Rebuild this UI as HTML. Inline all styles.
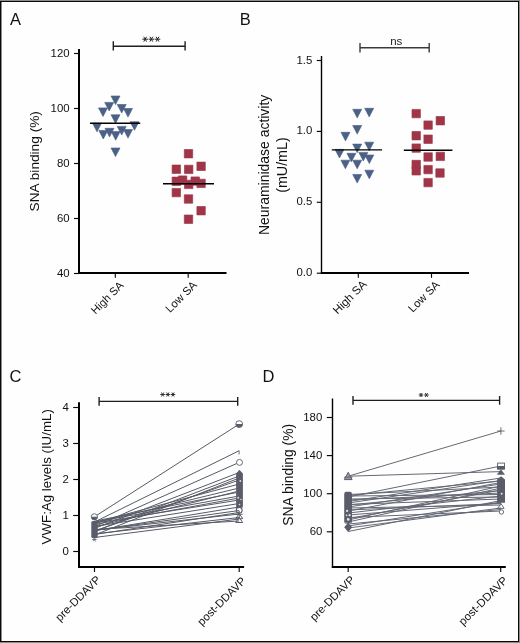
<!DOCTYPE html>
<html><head><meta charset="utf-8"><style>
html,body{margin:0;padding:0;background:#8c8c8c;}
body{width:520px;height:643px;position:relative;overflow:hidden;}
#frame{position:absolute;left:0;top:1px;width:519px;height:641px;background:#0a0a0a;}
#col1{position:absolute;left:1px;top:2px;width:1px;height:639px;background:#8a8a8a;}
#inner{position:absolute;left:2px;top:2px;width:516px;height:639px;background:#fefefe;}
svg{position:absolute;left:0;top:0;font-family:"Liberation Sans", sans-serif;will-change:transform;}
</style></head><body>
<div id="frame"></div><div id="col1"></div><div id="inner"></div>
<svg width="520" height="643" viewBox="0 0 520 643">
<text x="10" y="25" font-size="16.5" text-anchor="start" fill="#111">A</text>
<text x="239.7" y="25" font-size="16.5" text-anchor="start" fill="#111">B</text>
<text x="9.6" y="382" font-size="16.5" text-anchor="start" fill="#111">C</text>
<text x="262.5" y="382" font-size="16.5" text-anchor="start" fill="#111">D</text>
<line x1="79" y1="49" x2="79" y2="274.0" stroke="#000" stroke-width="2.0" />
<line x1="74" y1="53.5" x2="79" y2="53.5" stroke="#0a0a0a" stroke-width="1.15" />
<text x="69.6" y="56.5" font-size="11.4" text-anchor="end" fill="#111">120</text>
<line x1="74" y1="108.5" x2="79" y2="108.5" stroke="#0a0a0a" stroke-width="1.15" />
<text x="69.6" y="111.5" font-size="11.4" text-anchor="end" fill="#111">100</text>
<line x1="74" y1="163.5" x2="79" y2="163.5" stroke="#0a0a0a" stroke-width="1.15" />
<text x="69.6" y="166.5" font-size="11.4" text-anchor="end" fill="#111">80</text>
<line x1="74" y1="218.5" x2="79" y2="218.5" stroke="#0a0a0a" stroke-width="1.15" />
<text x="69.6" y="221.5" font-size="11.4" text-anchor="end" fill="#111">60</text>
<line x1="74" y1="273.5" x2="79" y2="273.5" stroke="#0a0a0a" stroke-width="1.15" />
<text x="69.6" y="276.5" font-size="11.4" text-anchor="end" fill="#111">40</text>
<line x1="78" y1="273" x2="226.5" y2="273" stroke="#000" stroke-width="2.0" />
<line x1="115.3" y1="273" x2="115.3" y2="277.7" stroke="#0a0a0a" stroke-width="1.15" />
<line x1="188.2" y1="273" x2="188.2" y2="277.7" stroke="#0a0a0a" stroke-width="1.15" />
<text x="0" y="0" font-size="13.68" text-anchor="middle" fill="#111" transform="translate(38.96,161.26) rotate(-90)">SNA binding (%)</text>
<text x="0" y="0" font-size="11.11" text-anchor="end" fill="#111" transform="translate(124.3,286.02) rotate(-45)">High SA</text>
<text x="0" y="0" font-size="11.27" text-anchor="end" fill="#111" transform="translate(197.54,285.7) rotate(-45)">Low SA</text>
<line x1="113.3" y1="46.2" x2="185.1" y2="46.2" stroke="#1e1e1e" stroke-width="1.4" />
<line x1="113.3" y1="41.2" x2="113.3" y2="50.6" stroke="#1e1e1e" stroke-width="1.4" />
<line x1="185.1" y1="41.2" x2="185.1" y2="50.6" stroke="#1e1e1e" stroke-width="1.4" />
<line x1="142.35" y1="39.2" x2="147.95" y2="39.2" stroke="#222" stroke-width="1.0" />
<line x1="143.75" y1="36.78" x2="146.55" y2="41.62" stroke="#222" stroke-width="1.0" />
<line x1="146.55" y1="36.78" x2="143.75" y2="41.62" stroke="#222" stroke-width="1.0" />
<line x1="148.55" y1="39.2" x2="154.15" y2="39.2" stroke="#222" stroke-width="1.0" />
<line x1="149.95" y1="36.78" x2="152.75" y2="41.62" stroke="#222" stroke-width="1.0" />
<line x1="152.75" y1="36.78" x2="149.95" y2="41.62" stroke="#222" stroke-width="1.0" />
<line x1="154.7" y1="39.2" x2="160.3" y2="39.2" stroke="#222" stroke-width="1.0" />
<line x1="156.1" y1="36.78" x2="158.9" y2="41.62" stroke="#222" stroke-width="1.0" />
<line x1="158.9" y1="36.78" x2="156.1" y2="41.62" stroke="#222" stroke-width="1.0" />
<path d="M111.00,96.00 L120.00,96.00 L115.50,104.60 Z M104.70,102.40 L113.70,102.40 L109.20,111.00 Z M98.50,107.90 L107.50,107.90 L103.00,116.50 Z M117.20,104.50 L126.20,104.50 L121.70,113.10 Z M123.50,108.50 L132.50,108.50 L128.00,117.10 Z M111.00,114.80 L120.00,114.80 L115.50,123.40 Z M92.50,123.20 L101.50,123.20 L97.00,131.80 Z M130.00,121.70 L139.00,121.70 L134.50,130.30 Z M98.80,130.40 L107.80,130.40 L103.30,139.00 Z M105.00,128.30 L114.00,128.30 L109.50,136.90 Z M111.20,131.60 L120.20,131.60 L115.70,140.20 Z M117.20,126.40 L126.20,126.40 L121.70,135.00 Z M123.50,129.50 L132.50,129.50 L128.00,138.10 Z M111.00,148.00 L120.00,148.00 L115.50,156.60 Z" fill="none" stroke="#3f577e" stroke-width="0.6"/>
<path d="M111.00,96.00 L120.00,96.00 L115.50,104.60 Z M104.70,102.40 L113.70,102.40 L109.20,111.00 Z M98.50,107.90 L107.50,107.90 L103.00,116.50 Z M117.20,104.50 L126.20,104.50 L121.70,113.10 Z M123.50,108.50 L132.50,108.50 L128.00,117.10 Z M111.00,114.80 L120.00,114.80 L115.50,123.40 Z M92.50,123.20 L101.50,123.20 L97.00,131.80 Z M130.00,121.70 L139.00,121.70 L134.50,130.30 Z M98.80,130.40 L107.80,130.40 L103.30,139.00 Z M105.00,128.30 L114.00,128.30 L109.50,136.90 Z M111.20,131.60 L120.20,131.60 L115.70,140.20 Z M117.20,126.40 L126.20,126.40 L121.70,135.00 Z M123.50,129.50 L132.50,129.50 L128.00,138.10 Z M111.00,148.00 L120.00,148.00 L115.50,156.60 Z" fill="#4b6186"/>
<line x1="90" y1="123.3" x2="140.2" y2="123.3" stroke="#000" stroke-width="1.4" />
<path d="M184.30,149.50 h8.4 v8.4 h-8.4 Z M172.10,165.00 h8.4 v8.4 h-8.4 Z M184.50,165.20 h8.4 v8.4 h-8.4 Z M196.90,162.10 h8.4 v8.4 h-8.4 Z M172.10,177.10 h8.4 v8.4 h-8.4 Z M178.40,175.90 h8.4 v8.4 h-8.4 Z M184.50,180.20 h8.4 v8.4 h-8.4 Z M191.00,176.90 h8.4 v8.4 h-8.4 Z M196.90,179.20 h8.4 v8.4 h-8.4 Z M172.10,188.40 h8.4 v8.4 h-8.4 Z M184.30,194.80 h8.4 v8.4 h-8.4 Z M196.90,206.50 h8.4 v8.4 h-8.4 Z M184.30,215.00 h8.4 v8.4 h-8.4 Z" fill="none" stroke="#8f1f35" stroke-width="0.6"/>
<path d="M184.30,149.50 h8.4 v8.4 h-8.4 Z M172.10,165.00 h8.4 v8.4 h-8.4 Z M184.50,165.20 h8.4 v8.4 h-8.4 Z M196.90,162.10 h8.4 v8.4 h-8.4 Z M172.10,177.10 h8.4 v8.4 h-8.4 Z M178.40,175.90 h8.4 v8.4 h-8.4 Z M184.50,180.20 h8.4 v8.4 h-8.4 Z M191.00,176.90 h8.4 v8.4 h-8.4 Z M196.90,179.20 h8.4 v8.4 h-8.4 Z M172.10,188.40 h8.4 v8.4 h-8.4 Z M184.30,194.80 h8.4 v8.4 h-8.4 Z M196.90,206.50 h8.4 v8.4 h-8.4 Z M184.30,215.00 h8.4 v8.4 h-8.4 Z" fill="#9f3547" fill-rule="nonzero"/>
<line x1="163" y1="183.7" x2="214" y2="183.7" stroke="#000" stroke-width="1.6" />
<line x1="321.5" y1="56" x2="321.5" y2="273.7" stroke="#000" stroke-width="1.4" />
<line x1="316.8" y1="60.49999999999997" x2="321.5" y2="60.49999999999997" stroke="#0a0a0a" stroke-width="1.15" />
<text x="312.3" y="63.49999999999997" font-size="11.4" text-anchor="end" fill="#111">1.5</text>
<line x1="316.8" y1="131.39999999999998" x2="321.5" y2="131.39999999999998" stroke="#0a0a0a" stroke-width="1.15" />
<text x="312.3" y="134.39999999999998" font-size="11.4" text-anchor="end" fill="#111">1.0</text>
<line x1="316.8" y1="202.29999999999998" x2="321.5" y2="202.29999999999998" stroke="#0a0a0a" stroke-width="1.15" />
<text x="312.3" y="205.29999999999998" font-size="11.4" text-anchor="end" fill="#111">0.5</text>
<line x1="316.8" y1="273.2" x2="321.5" y2="273.2" stroke="#0a0a0a" stroke-width="1.15" />
<text x="312.3" y="276.2" font-size="11.4" text-anchor="end" fill="#111">0.0</text>
<line x1="320.8" y1="273" x2="469" y2="273" stroke="#000" stroke-width="2.0" />
<line x1="358.3" y1="273" x2="358.3" y2="277.8" stroke="#0a0a0a" stroke-width="1.15" />
<line x1="431.5" y1="273" x2="431.5" y2="277.8" stroke="#0a0a0a" stroke-width="1.15" />
<text x="0" y="0" font-size="13.94" text-anchor="middle" fill="#111" transform="translate(269.16,164.84) rotate(-90)">Neuraminidase activity</text>
<text x="0" y="0" font-size="14.31" text-anchor="middle" fill="#111" transform="translate(286.8,165.06) rotate(-90)">(mU/mL)</text>
<text x="0" y="0" font-size="11.52" text-anchor="end" fill="#111" transform="translate(367.46,284.98) rotate(-45)">High SA</text>
<text x="0" y="0" font-size="11.26" text-anchor="end" fill="#111" transform="translate(440.26,285.46) rotate(-45)">Low SA</text>
<line x1="360" y1="47.7" x2="429.2" y2="47.7" stroke="#3a3a3a" stroke-width="1.4" />
<line x1="360" y1="43" x2="360" y2="52.5" stroke="#3a3a3a" stroke-width="1.4" />
<line x1="429.2" y1="43" x2="429.2" y2="52.5" stroke="#3a3a3a" stroke-width="1.4" />
<text x="396.3" y="44.7" font-size="11.5" text-anchor="middle" fill="#222">ns</text>
<path d="M352.70,109.30 L361.70,109.30 L357.20,117.90 Z M364.70,108.30 L373.70,108.30 L369.20,116.90 Z M352.70,125.50 L361.70,125.50 L357.20,134.10 Z M341.00,132.30 L350.00,132.30 L345.50,140.90 Z M352.70,144.10 L361.70,144.10 L357.20,152.70 Z M364.70,142.20 L373.70,142.20 L369.20,150.80 Z M335.00,149.40 L344.00,149.40 L339.50,158.00 Z M346.90,153.30 L355.90,153.30 L351.40,161.90 Z M358.80,152.40 L367.80,152.40 L363.30,161.00 Z M364.80,155.00 L373.80,155.00 L369.30,163.60 Z M340.90,160.20 L349.90,160.20 L345.40,168.80 Z M352.70,160.20 L361.70,160.20 L357.20,168.80 Z M364.80,170.20 L373.80,170.20 L369.30,178.80 Z M352.70,174.40 L361.70,174.40 L357.20,183.00 Z" fill="none" stroke="#3f577e" stroke-width="0.6"/>
<path d="M352.70,109.30 L361.70,109.30 L357.20,117.90 Z M364.70,108.30 L373.70,108.30 L369.20,116.90 Z M352.70,125.50 L361.70,125.50 L357.20,134.10 Z M341.00,132.30 L350.00,132.30 L345.50,140.90 Z M352.70,144.10 L361.70,144.10 L357.20,152.70 Z M364.70,142.20 L373.70,142.20 L369.20,150.80 Z M335.00,149.40 L344.00,149.40 L339.50,158.00 Z M346.90,153.30 L355.90,153.30 L351.40,161.90 Z M358.80,152.40 L367.80,152.40 L363.30,161.00 Z M364.80,155.00 L373.80,155.00 L369.30,163.60 Z M340.90,160.20 L349.90,160.20 L345.40,168.80 Z M352.70,160.20 L361.70,160.20 L357.20,168.80 Z M364.80,170.20 L373.80,170.20 L369.30,178.80 Z M352.70,174.40 L361.70,174.40 L357.20,183.00 Z" fill="#4b6186"/>
<line x1="331.8" y1="149.9" x2="382.1" y2="149.9" stroke="#000" stroke-width="1.4" />
<path d="M412.00,109.40 h8.4 v8.4 h-8.4 Z M423.90,120.90 h8.4 v8.4 h-8.4 Z M436.10,116.50 h8.4 v8.4 h-8.4 Z M412.00,131.50 h8.4 v8.4 h-8.4 Z M423.90,135.00 h8.4 v8.4 h-8.4 Z M412.00,143.90 h8.4 v8.4 h-8.4 Z M423.90,152.80 h8.4 v8.4 h-8.4 Z M436.10,152.20 h8.4 v8.4 h-8.4 Z M412.00,160.30 h8.4 v8.4 h-8.4 Z M412.00,166.60 h8.4 v8.4 h-8.4 Z M423.90,165.40 h8.4 v8.4 h-8.4 Z M435.80,168.80 h8.4 v8.4 h-8.4 Z M423.90,178.40 h8.4 v8.4 h-8.4 Z" fill="none" stroke="#8f1f35" stroke-width="0.6"/>
<path d="M412.00,109.40 h8.4 v8.4 h-8.4 Z M423.90,120.90 h8.4 v8.4 h-8.4 Z M436.10,116.50 h8.4 v8.4 h-8.4 Z M412.00,131.50 h8.4 v8.4 h-8.4 Z M423.90,135.00 h8.4 v8.4 h-8.4 Z M412.00,143.90 h8.4 v8.4 h-8.4 Z M423.90,152.80 h8.4 v8.4 h-8.4 Z M436.10,152.20 h8.4 v8.4 h-8.4 Z M412.00,160.30 h8.4 v8.4 h-8.4 Z M412.00,166.60 h8.4 v8.4 h-8.4 Z M423.90,165.40 h8.4 v8.4 h-8.4 Z M435.80,168.80 h8.4 v8.4 h-8.4 Z M423.90,178.40 h8.4 v8.4 h-8.4 Z" fill="#9f3547" fill-rule="nonzero"/>
<line x1="403.8" y1="150.2" x2="452.4" y2="150.2" stroke="#000" stroke-width="1.5" />
<line x1="79" y1="402.3" x2="79" y2="568.0" stroke="#000" stroke-width="2.0" />
<line x1="73.2" y1="407.5" x2="79" y2="407.5" stroke="#0a0a0a" stroke-width="1.15" />
<text x="68.8" y="410.5" font-size="11.4" text-anchor="end" fill="#111">4</text>
<line x1="73.2" y1="443.5" x2="79" y2="443.5" stroke="#0a0a0a" stroke-width="1.15" />
<text x="68.8" y="446.5" font-size="11.4" text-anchor="end" fill="#111">3</text>
<line x1="73.2" y1="479.5" x2="79" y2="479.5" stroke="#0a0a0a" stroke-width="1.15" />
<text x="68.8" y="482.5" font-size="11.4" text-anchor="end" fill="#111">2</text>
<line x1="73.2" y1="515.5" x2="79" y2="515.5" stroke="#0a0a0a" stroke-width="1.15" />
<text x="68.8" y="518.5" font-size="11.4" text-anchor="end" fill="#111">1</text>
<line x1="73.2" y1="551.5" x2="79" y2="551.5" stroke="#0a0a0a" stroke-width="1.15" />
<text x="68.8" y="554.5" font-size="11.4" text-anchor="end" fill="#111">0</text>
<line x1="78" y1="567" x2="244.1" y2="567" stroke="#000" stroke-width="2.0" />
<line x1="94.5" y1="567" x2="94.5" y2="572" stroke="#0a0a0a" stroke-width="1.15" />
<line x1="239.2" y1="567" x2="239.2" y2="572" stroke="#0a0a0a" stroke-width="1.15" />
<text x="0" y="0" font-size="13.3" text-anchor="middle" fill="#111" transform="translate(51.16,476.79) rotate(-90)">VWF:Ag levels (IU/mL)</text>
<text x="0" y="0" font-size="11.39" text-anchor="end" fill="#111" transform="translate(101.34,580.46) rotate(-45)">pre-DDAVP</text>
<text x="0" y="0" font-size="11.25" text-anchor="end" fill="#111" transform="translate(246.54,581.66) rotate(-45)">post-DDAVP</text>
<line x1="99.1" y1="401.4" x2="237.7" y2="401.4" stroke="#1e1e1e" stroke-width="1.4" />
<line x1="99.1" y1="397" x2="99.1" y2="405.7" stroke="#1e1e1e" stroke-width="1.4" />
<line x1="237.7" y1="397" x2="237.7" y2="405.7" stroke="#1e1e1e" stroke-width="1.4" />
<line x1="160.3" y1="394.5" x2="164.9" y2="394.5" stroke="#222" stroke-width="0.9" />
<line x1="161.45" y1="392.51" x2="163.75" y2="396.49" stroke="#222" stroke-width="0.9" />
<line x1="163.75" y1="392.51" x2="161.45" y2="396.49" stroke="#222" stroke-width="0.9" />
<line x1="165.5" y1="394.5" x2="170.1" y2="394.5" stroke="#222" stroke-width="0.9" />
<line x1="166.65" y1="392.51" x2="168.95" y2="396.49" stroke="#222" stroke-width="0.9" />
<line x1="168.95" y1="392.51" x2="166.65" y2="396.49" stroke="#222" stroke-width="0.9" />
<line x1="170.7" y1="394.5" x2="175.3" y2="394.5" stroke="#222" stroke-width="0.9" />
<line x1="171.85" y1="392.51" x2="174.15" y2="396.49" stroke="#222" stroke-width="0.9" />
<line x1="174.15" y1="392.51" x2="171.85" y2="396.49" stroke="#222" stroke-width="0.9" />
<line x1="94.4" y1="516.8" x2="239.2" y2="424.1" stroke="#575a66" stroke-width="1.0" />
<line x1="94.4" y1="522.1" x2="239.2" y2="450.7" stroke="#575a66" stroke-width="1.0" />
<line x1="94.4" y1="526.8" x2="239.2" y2="462.4" stroke="#575a66" stroke-width="1.0" />
<line x1="94.4" y1="528.4" x2="239.2" y2="472.5" stroke="#575a66" stroke-width="1.0" />
<line x1="94.4" y1="531.3" x2="239.2" y2="476" stroke="#575a66" stroke-width="1.0" />
<line x1="94.4" y1="531.2" x2="239.2" y2="480" stroke="#575a66" stroke-width="1.0" />
<line x1="94.4" y1="522.6" x2="239.2" y2="484" stroke="#575a66" stroke-width="1.0" />
<line x1="94.4" y1="523.1" x2="239.2" y2="488" stroke="#575a66" stroke-width="1.0" />
<line x1="94.4" y1="521.2" x2="239.2" y2="492" stroke="#575a66" stroke-width="1.0" />
<line x1="94.4" y1="522" x2="239.2" y2="496" stroke="#575a66" stroke-width="1.0" />
<line x1="94.4" y1="523.1" x2="239.2" y2="500" stroke="#575a66" stroke-width="1.0" />
<line x1="94.4" y1="526.5" x2="239.2" y2="503.5" stroke="#575a66" stroke-width="1.0" />
<line x1="94.4" y1="530.7" x2="239.2" y2="507" stroke="#575a66" stroke-width="1.0" />
<line x1="94.4" y1="530.5" x2="239.2" y2="510.5" stroke="#575a66" stroke-width="1.0" />
<line x1="94.4" y1="530.2" x2="239.2" y2="514" stroke="#575a66" stroke-width="1.0" />
<line x1="94.4" y1="533.9" x2="239.2" y2="517.5" stroke="#575a66" stroke-width="1.0" />
<line x1="94.4" y1="529.5" x2="239.2" y2="521" stroke="#575a66" stroke-width="1.0" />
<line x1="94.4" y1="537.5" x2="239.2" y2="519" stroke="#575a66" stroke-width="1.0" />
<line x1="94.4" y1="535" x2="239.2" y2="478" stroke="#575a66" stroke-width="1.0" />
<line x1="94.4" y1="527" x2="239.2" y2="491" stroke="#575a66" stroke-width="1.0" />
<line x1="94.4" y1="524.5" x2="239.2" y2="498" stroke="#575a66" stroke-width="1.0" />
<line x1="94.4" y1="534.5" x2="239.2" y2="512.5" stroke="#575a66" stroke-width="1.0" />
<rect x="91.3" y="521" width="6.4" height="17" rx="1.5" fill="#5a5d69"/>
<circle cx="94.4" cy="516.8" r="3.1" fill="#fff" stroke="#5a5d69" stroke-width="0.9"/>
<path d="M91.3,516.8 A3.1,3.1 0 0 0 97.5,516.8 Z" fill="#5a5d69"/>
<line x1="92.2" y1="539.5" x2="96.6" y2="539.5" stroke="#5a5d69" stroke-width="0.8" />
<line x1="93.3" y1="537.59" x2="95.5" y2="541.41" stroke="#5a5d69" stroke-width="0.8" />
<line x1="95.5" y1="537.59" x2="93.3" y2="541.41" stroke="#5a5d69" stroke-width="0.8" />
<path d="M236.1,473.5 L239.4,469.7 L242.9,473.5 L242.9,507.5 L236.1,507.5 Z" fill="#5a5d69"/>
<circle cx="240.3" cy="481" r="0.9" fill="#dcdde2"/>
<circle cx="238.2" cy="497.8" r="1.0" fill="#dcdde2"/>
<circle cx="241" cy="499.5" r="0.8" fill="#dcdde2"/>
<circle cx="239.5" cy="504.5" r="0.8" fill="#dcdde2"/>
<circle cx="239.2" cy="510.3" r="2.9" fill="none" stroke="#5a5d69" stroke-width="1.1"/>
<path d="M235.79999999999998,514.3 L242.6,514.3 M239.2,511 L239.2,517.6" stroke="#5a5d69" stroke-width="1.1"/>
<path d="M235.7,518.7 L239.2,513.5 L242.7,518.7 Z" fill="none" stroke="#5a5d69" stroke-width="1"/>
<path d="M235.7,522.5 L239.2,517.3 L242.7,522.5 Z" fill="none" stroke="#5a5d69" stroke-width="1"/>
<circle cx="239.2" cy="424.1" r="3.4" fill="#fff" stroke="#5a5d69" stroke-width="0.9"/>
<path d="M235.79999999999998,424.1 A3.4,3.4 0 0 0 242.6,424.1 Z" fill="#5a5d69"/>
<circle cx="239.5" cy="462.4" r="3" fill="#fff" stroke="#5a5d69" stroke-width="0.9"/>
<line x1="239.1" y1="450.7" x2="239.1" y2="454.5" stroke="#5a5d69" stroke-width="0.9" />
<line x1="332.5" y1="398.5" x2="332.5" y2="567.7" stroke="#000" stroke-width="1.4" />
<line x1="326.8" y1="417.5" x2="332.5" y2="417.5" stroke="#0a0a0a" stroke-width="1.15" />
<text x="322.3" y="420.5" font-size="11.4" text-anchor="end" fill="#111">180</text>
<line x1="326.8" y1="455.6" x2="332.5" y2="455.6" stroke="#0a0a0a" stroke-width="1.15" />
<text x="322.3" y="458.6" font-size="11.4" text-anchor="end" fill="#111">140</text>
<line x1="326.8" y1="493.7" x2="332.5" y2="493.7" stroke="#0a0a0a" stroke-width="1.15" />
<text x="322.3" y="496.7" font-size="11.4" text-anchor="end" fill="#111">100</text>
<line x1="326.8" y1="531.8" x2="332.5" y2="531.8" stroke="#0a0a0a" stroke-width="1.15" />
<text x="322.3" y="534.8" font-size="11.4" text-anchor="end" fill="#111">60</text>
<line x1="331.8" y1="567" x2="505.8" y2="567" stroke="#000" stroke-width="2.0" />
<line x1="348.2" y1="567" x2="348.2" y2="572" stroke="#0a0a0a" stroke-width="1.15" />
<line x1="500.7" y1="567" x2="500.7" y2="572" stroke="#0a0a0a" stroke-width="1.15" />
<text x="0" y="0" font-size="13.89" text-anchor="middle" fill="#111" transform="translate(292.74,474.73) rotate(-90)">SNA binding (%)</text>
<text x="0" y="0" font-size="11.25" text-anchor="end" fill="#111" transform="translate(355.44,580.46) rotate(-45)">pre-DDAVP</text>
<text x="0" y="0" font-size="11.39" text-anchor="end" fill="#111" transform="translate(508.36,581.02) rotate(-45)">post-DDAVP</text>
<line x1="353" y1="400.4" x2="499.6" y2="400.4" stroke="#1e1e1e" stroke-width="1.4" />
<line x1="353" y1="396" x2="353" y2="404.7" stroke="#1e1e1e" stroke-width="1.4" />
<line x1="499.6" y1="396" x2="499.6" y2="404.7" stroke="#1e1e1e" stroke-width="1.4" />
<line x1="418.7" y1="395.0" x2="423.3" y2="395.0" stroke="#222" stroke-width="0.9" />
<line x1="419.85" y1="393.01" x2="422.15" y2="396.99" stroke="#222" stroke-width="0.9" />
<line x1="422.15" y1="393.01" x2="419.85" y2="396.99" stroke="#222" stroke-width="0.9" />
<line x1="424.1" y1="395.0" x2="428.7" y2="395.0" stroke="#222" stroke-width="0.9" />
<line x1="425.25" y1="393.01" x2="427.55" y2="396.99" stroke="#222" stroke-width="0.9" />
<line x1="427.55" y1="393.01" x2="425.25" y2="396.99" stroke="#222" stroke-width="0.9" />
<line x1="348.2" y1="476.2" x2="500.9" y2="431" stroke="#656874" stroke-width="1.0" />
<line x1="348.2" y1="476.2" x2="500.9" y2="471.6" stroke="#656874" stroke-width="1.0" />
<line x1="348.2" y1="497" x2="500.9" y2="466" stroke="#656874" stroke-width="1.0" />
<line x1="348.2" y1="501.5" x2="500.9" y2="478" stroke="#656874" stroke-width="1.0" />
<line x1="348.2" y1="495.5" x2="500.9" y2="481" stroke="#656874" stroke-width="1.0" />
<line x1="348.2" y1="507" x2="500.9" y2="484" stroke="#656874" stroke-width="1.0" />
<line x1="348.2" y1="494.5" x2="500.9" y2="487" stroke="#656874" stroke-width="1.0" />
<line x1="348.2" y1="518.7" x2="500.9" y2="490" stroke="#656874" stroke-width="1.0" />
<line x1="348.2" y1="500" x2="500.9" y2="493" stroke="#656874" stroke-width="1.0" />
<line x1="348.2" y1="513" x2="500.9" y2="496" stroke="#656874" stroke-width="1.0" />
<line x1="348.2" y1="504.5" x2="500.9" y2="499" stroke="#656874" stroke-width="1.0" />
<line x1="348.2" y1="526" x2="500.9" y2="502" stroke="#656874" stroke-width="1.0" />
<line x1="348.2" y1="508" x2="500.9" y2="505" stroke="#656874" stroke-width="1.0" />
<line x1="348.2" y1="528" x2="500.9" y2="508" stroke="#656874" stroke-width="1.0" />
<line x1="348.2" y1="517.5" x2="500.9" y2="511" stroke="#656874" stroke-width="1.0" />
<line x1="348.2" y1="503" x2="500.9" y2="480.5" stroke="#656874" stroke-width="1.0" />
<line x1="348.2" y1="531.5" x2="500.9" y2="500.5" stroke="#656874" stroke-width="1.0" />
<line x1="348.2" y1="520" x2="500.9" y2="486" stroke="#656874" stroke-width="1.0" />
<line x1="348.2" y1="496" x2="500.9" y2="494.5" stroke="#656874" stroke-width="1.0" />
<line x1="348.2" y1="510" x2="500.9" y2="503.5" stroke="#656874" stroke-width="1.0" />
<line x1="348.2" y1="524" x2="500.9" y2="509.5" stroke="#656874" stroke-width="1.0" />
<line x1="348.2" y1="499" x2="500.9" y2="497" stroke="#656874" stroke-width="1.0" />
<line x1="348.2" y1="505" x2="500.9" y2="490.5" stroke="#656874" stroke-width="1.0" />
<line x1="348.2" y1="515" x2="500.9" y2="503" stroke="#656874" stroke-width="1.0" />
<line x1="348.2" y1="522" x2="500.9" y2="488" stroke="#656874" stroke-width="1.0" />
<line x1="348.2" y1="511" x2="500.9" y2="482.5" stroke="#656874" stroke-width="1.0" />
<path d="M344.3,479.6 L348.2,472.3 L352.09999999999997,479.6 Z" fill="#9a9ca5" stroke="#5a5d69" stroke-width="1"/>
<line x1="344.0" y1="477.2" x2="352.4" y2="477.2" stroke="#5a5d69" stroke-width="0.9" />
<rect x="344.2" y="491.8" width="7.8" height="32" rx="2.2" fill="#5a5d69"/>
<circle cx="347.1" cy="510.9" r="1.1" fill="#e4e4e8"/>
<circle cx="349.6" cy="515.2" r="1.1" fill="#e4e4e8"/>
<circle cx="346.6" cy="515.4" r="0.8" fill="#e4e4e8"/>
<circle cx="348.2" cy="519.4" r="1.3" fill="#e4e4e8"/>
<path d="M345.5,522.5 L351,526 M351,522.5 L345.5,526" stroke="#c8c9ce" stroke-width="0.7"/>
<path d="M344.2,527.3 L348.2,522.6 L352.2,527.3 L348.2,532 Z" fill="#5a5d69"/>
<path d="M497.1,479.6 L501.1,476.2 L505,479.6 L505,502.8 L497.1,502.8 Z" fill="#5a5d69"/>
<circle cx="501.6" cy="493.8" r="1.0" fill="#e8e8ea"/>
<path d="M497.7,508.4 L500.9,503.4 L504.09999999999997,508.4 Z" fill="none" stroke="#5a5d69" stroke-width="0.9"/>
<circle cx="501.4" cy="512" r="2.2" fill="#fff" stroke="#5a5d69" stroke-width="0.9"/>
<line x1="497.2" y1="431" x2="504.59999999999997" y2="431" stroke="#5a5d69" stroke-width="0.9" />
<line x1="500.9" y1="427.3" x2="500.9" y2="434.7" stroke="#5a5d69" stroke-width="0.9" />
<rect x="497.6" y="463.1" width="6.9" height="6" fill="#fff" stroke="#5a5d69" stroke-width="0.9"/>
<rect x="497.2" y="466" width="7.6" height="3.4" fill="#5a5d69"/>
<path d="M497.4,474.4 L500.9,469.6 L504.4,474.4 Z" fill="#5a5d69" stroke="#5a5d69" stroke-width="0.6"/>
</svg>
</body></html>
